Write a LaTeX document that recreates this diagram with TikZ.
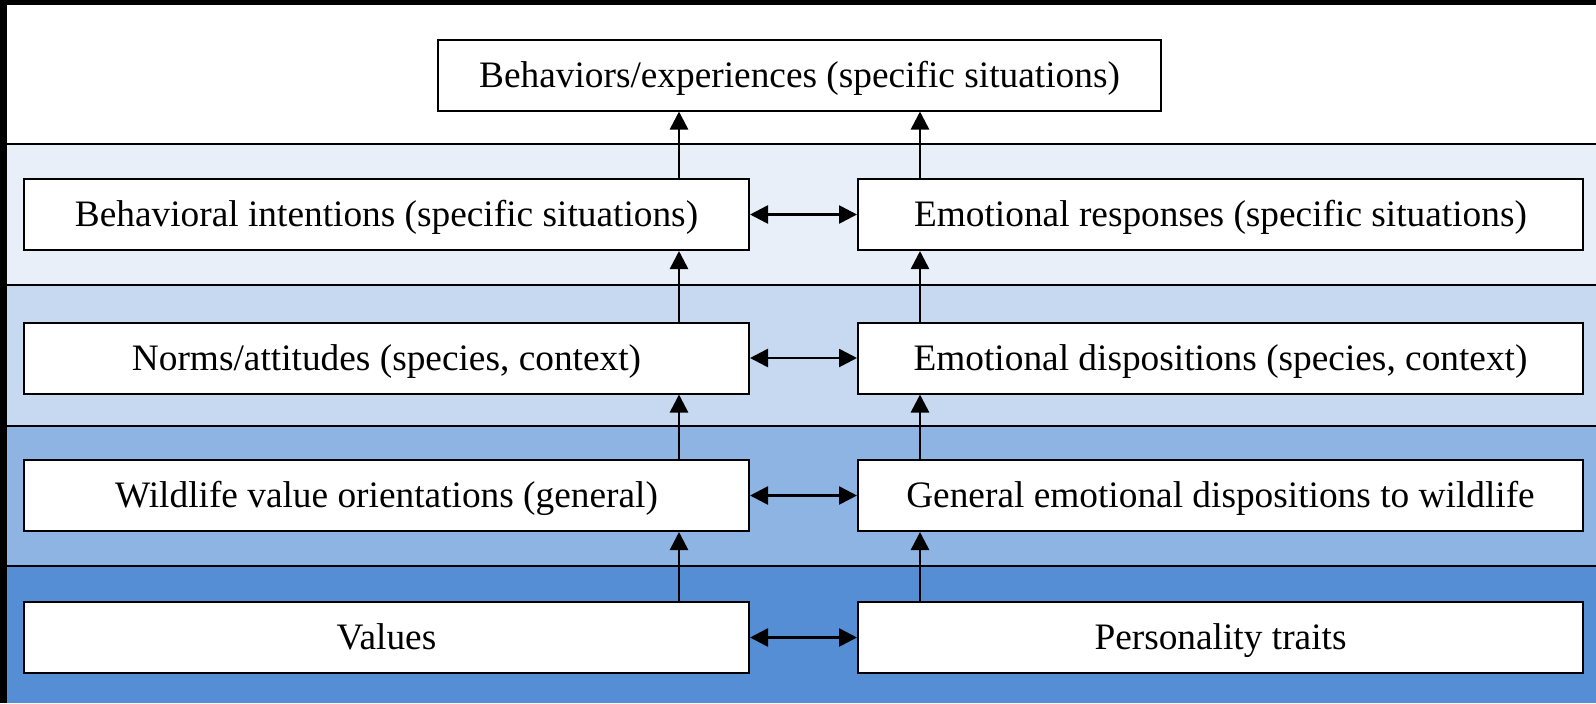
\documentclass[tikz,border=0pt]{standalone}
\usepackage{fontspec}
\setmainfont{Liberation Serif}
\usetikzlibrary{arrows.meta}
\definecolor{bandA}{HTML}{E9EFF9}
\definecolor{bandB}{HTML}{C6D9F1}
\definecolor{bandC}{HTML}{8EB4E3}
\definecolor{bandD}{HTML}{558ED5}
\tikzset{
  box/.style={draw=black, line width=1pt, fill=white, minimum height=35.5pt, inner sep=0pt, text height=15pt, text depth=3pt, font=\fontsize{18.67}{22}\selectfont},
  lbox/.style={box, minimum width=362.5pt},
  tip/.style={},
  arr/.style={line width=1.3pt, -{Triangle[length=9pt,width=9pt]}},
  darr/.style={line width=1.3pt, {Triangle[length=9pt,width=9pt]}-{Triangle[length=9pt,width=9pt]}},
  bandline/.style={line width=1pt, draw=black}
}
\begin{document}
\begin{tikzpicture}[x=0.5pt,y=-0.5pt]
\useasboundingbox (0,0) rectangle (1596,703);
\fill[white] (0,0) rectangle (1596,703);
% bands
\fill[bandA] (7,144) rectangle (1596,285);
\fill[bandB] (7,285) rectangle (1596,425.5);
\fill[bandC] (7,425.5) rectangle (1596,566);
\fill[bandD] (7,566) rectangle (1596,703);
\draw[bandline] (7,144) -- (1596,144);
\draw[bandline] (7,285) -- (1596,285);
\draw[bandline] (7,425.5) -- (1596,425.5);
\draw[bandline] (7,566) -- (1596,566);
% black frame edges
\fill[black] (0,0) rectangle (1596,5);
\fill[black] (0,0) rectangle (7,703);
% nodes
\node[box, minimum width=361.5pt] (top) at (799.5,75) {Behaviors/experiences (specific situations)};
\node[lbox] (l1) at (386.5,214.5) {Behavioral intentions (specific situations)};
\node[lbox] (r1) at (1220.5,214.5) {Emotional responses (specific situations)};
\node[lbox] (l2) at (386.5,358) {Norms/attitudes (species, context)};
\node[lbox] (r2) at (1220.5,358) {Emotional dispositions (species, context)};
\node[lbox] (l3) at (386.5,495.5) {Wildlife value orientations (general)};
\node[lbox] (r3) at (1220.5,495.5) {General emotional dispositions to wildlife};
\node[lbox] (l4) at (386.5,637.5) {Values};
\node[lbox] (r4) at (1220.5,637.5) {Personality traits};
\coordinate (xl) at (679,0);
\coordinate (xr) at (920,0);
% vertical arrows
\draw[arr] (l4.north -| xl) -- (l3.south -| xl);
\draw[arr] (l3.north -| xl) -- (l2.south -| xl);
\draw[arr] (l2.north -| xl) -- (l1.south -| xl);
\draw[arr] (l1.north -| xl) -- (top.south -| xl);
\draw[arr] (r4.north -| xr) -- (r3.south -| xr);
\draw[arr] (r3.north -| xr) -- (r2.south -| xr);
\draw[arr] (r2.north -| xr) -- (r1.south -| xr);
\draw[arr] (r1.north -| xr) -- (top.south -| xr);
% horizontal double arrows
\draw[darr] (l1.east) -- (r1.west);
\draw[darr] (l2.east) -- (r2.west);
\draw[darr] (l3.east) -- (r3.west);
\draw[darr] (l4.east) -- (r4.west);
\end{tikzpicture}
\end{document}
